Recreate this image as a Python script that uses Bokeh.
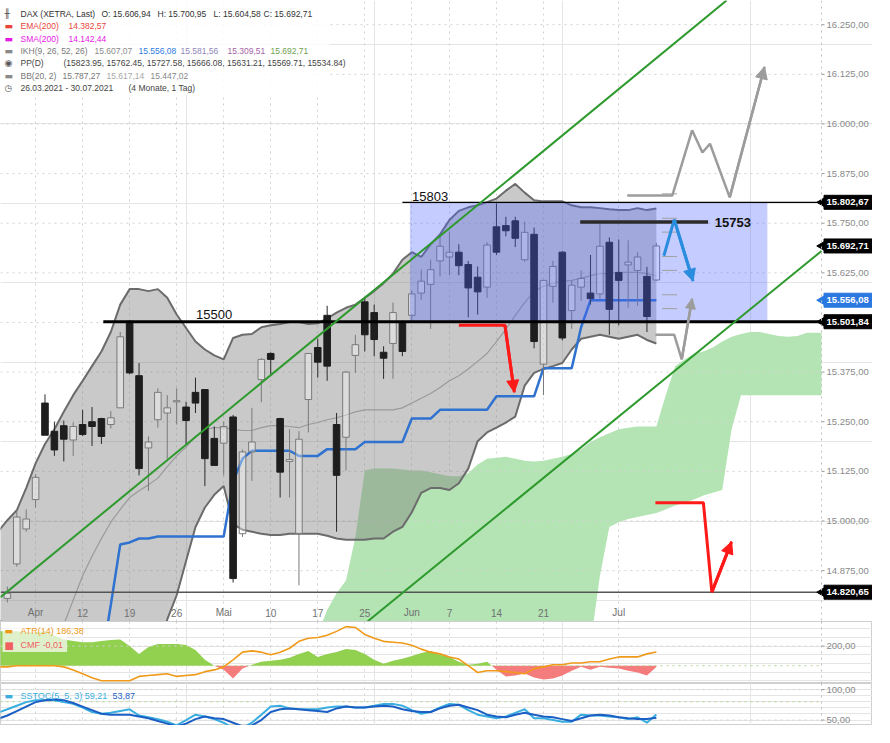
import math
import pandas as pd
from bokeh.plotting import figure
from bokeh.layouts import column
from bokeh.models import Range1d, FixedTicker, Grid, Label, Arrow, NormalHead, Span, BoxAnnotation
from bokeh.core.properties import value
from bokeh.embed import file_html
from bokeh.resources import INLINE

FONT = "Liberation Sans"

# ---------------- dates / categories ----------------
holidays = ["2021-04-02", "2021-04-05", "2021-05-24"]
trading_days = [d.strftime("%Y-%m-%d") for d in pd.bdate_range("2021-03-26", "2021-07-07")
                if d.strftime("%Y-%m-%d") not in holidays]
xs = list(range(len(trading_days)))
week_labels = ["Apr", "12", "19", "26", "Mai", "10", "17", "25", "Jun", "7", "14", "21", "Jul"]
week_dates = ["2021-04-01", "2021-04-12", "2021-04-19", "2021-04-26", "2021-05-03", "2021-05-10",
              "2021-05-17", "2021-05-25", "2021-06-01", "2021-06-07", "2021-06-14", "2021-06-21",
              "2021-07-01"]
week_x = [trading_days.index(d) for d in week_dates]

# ---------------- OHLC ----------------
open_ = [14700, 14805, 14892, 14980, 15054, 15297, 15226, 15240, 15204, 15243,
         15250, 15258, 15243, 15285, 15503, 15366, 15184, 15255, 15272, 15300,
         15287, 15324, 15331, 15208, 15196, 15262, 14968, 15174, 15356, 15422,
         15258, 15150, 14968, 15306, 15437, 15518, 15243, 15211, 15417, 15552,
         15525, 15425, 15447, 15500, 15518, 15574, 15596, 15655, 15665, 15677,
         15646, 15614, 15589, 15741, 15744, 15756, 15658, 15722, 15395, 15591,
         15677, 15530, 15589, 15574, 15572, 15702, 15626, 15645, 15631, 15616, 15606.94]
high = [14760, 14835, 15029, 15029, 15118, 15319, 15250, 15253, 15248, 15280,
        15287, 15260, 15277, 15476, 15505, 15398, 15213, 15334, 15317, 15334,
        15300, 15361, 15331, 15238, 15250, 15267, 15180, 15285, 15410, 15425,
        15260, 15231, 15226, 15422, 15459, 15542, 15272, 15378, 15469, 15560,
        15545, 15440, 15550, 15505, 15580, 15633, 15658, 15722, 15729, 15697,
        15655, 15641, 15702, 15800, 15766, 15766, 15754, 15739, 15606, 15655,
        15680, 15606, 15631, 15670, 15751, 15714, 15709, 15707, 15677, 15640, 15700.95]
low = [14690, 14795, 14885, 14973, 15034, 15216, 15164, 15150, 15164, 15214,
       15189, 15194, 15233, 15285, 15370, 15115, 15076, 15235, 15157, 15243,
       15194, 15272, 15088, 15140, 15115, 14845, 14960, 15101, 15299, 15366,
       15059, 15059, 14838, 15223, 15361, 15353, 14973, 15127, 15373, 15427,
       15415, 15358, 15358, 15415, 15505, 15557, 15484, 15616, 15619, 15619,
       15513, 15520, 15562, 15670, 15717, 15690, 15653, 15435, 15317, 15550,
       15455, 15484, 15555, 15545, 15560, 15469, 15493, 15537, 15542, 15476, 15604.58]
close = [14749, 14818, 15010, 15005, 15110, 15216, 15179, 15206, 15238, 15218,
         15238, 15213, 15260, 15464, 15373, 15132, 15199, 15324, 15285, 15303,
         15253, 15297, 15157, 15140, 15238, 14855, 15174, 15199, 15407, 15407,
         15123, 15155, 15206, 15422, 15400, 15390, 15115, 15375, 15444, 15469,
         15457, 15410, 15525, 15427, 15572, 15604, 15633, 15692, 15677, 15643,
         15587, 15577, 15695, 15677, 15731, 15712, 15727, 15452, 15606, 15641,
         15461, 15594, 15611, 15560, 15692, 15533, 15606, 15652, 15665, 15515, 15692.71]

# ---------------- Bollinger (20,2) ----------------
bb_upper = [14973, 15002, 15027, 15083, 15145, 15194, 15231, 15275, 15317, 15353,
            15390, 15427, 15476, 15545, 15584, 15584, 15579, 15584, 15562, 15520,
            15486, 15452, 15432, 15417, 15407, 15461, 15469, 15471, 15488, 15493,
            15496, 15501, 15501, 15496, 15498, 15510, 15525, 15537, 15545, 15562,
            15579, 15599, 15623, 15658, 15677, 15665, 15697, 15722, 15758, 15781,
            15790, 15795, 15803, 15812, 15832, 15849, 15827, 15808, 15805, 15805,
            15805, 15795, 15790, 15790, 15788, 15785, 15783, 15783, 15788, 15783, 15787.27]
bb_mid = [14298, 14347, 14396, 14445, 14494, 14592, 14666, 14739, 14801, 14862,
          14911, 14956, 14997, 15029, 15059, 15076, 15091, 15108, 15137, 15164,
          15186, 15213, 15231, 15235, 15235, 15231, 15228, 15228, 15235, 15240,
          15240, 15238, 15235, 15243, 15248, 15255, 15260, 15267, 15275, 15280,
          15280, 15280, 15280, 15285, 15297, 15309, 15321, 15336, 15353, 15366,
          15383, 15402, 15422, 15452, 15483, 15518, 15550, 15579, 15591, 15599,
          15604, 15606, 15611, 15618, 15623, 15623, 15626, 15626, 15626, 15623, 15617.14]
bb_lower = [13623, 13692, 13765, 13807, 13843, 13990, 14101, 14203, 14285, 14371,
            14432, 14485, 14518, 14513, 14534, 14568, 14603, 14632, 14752, 14813,
            14899, 14985, 15034, 15066, 15088, 14992, 14978, 14973, 14968, 14965,
            14965, 14968, 14968, 14968, 14968, 14963, 14956, 14953, 14953, 14953,
            14956, 14956, 14973, 14985, 15022, 15071, 15083, 15083, 15078, 15095,
            15132, 15201, 15223, 15235, 15248, 15263, 15341, 15373, 15383, 15390,
            15398, 15432, 15459, 15464, 15469, 15464, 15459, 15464, 15469, 15456, 15447.02]

# ---------------- Ichimoku ----------------
kijun = [14600, 14600, 14600, 14600, 14600, 14600, 14600, 14600, 14600, 14600,
         14600, 14641, 14789, 14941, 14946, 14956, 14956, 14961, 14961, 14961,
         14961, 14961, 14961, 14961, 14961, 15100, 15157, 15177, 15177, 15177,
         15177, 15177, 15164, 15164, 15164, 15181, 15181, 15181, 15181, 15199,
         15199, 15199, 15199, 15199, 15258, 15258, 15258, 15280, 15280, 15280,
         15280, 15280, 15280, 15314, 15314, 15314, 15314, 15314, 15385, 15385,
         15385, 15385, 15488, 15556.08, 15556.08, 15556.08, 15556.08, 15556.08,
         15556.08, 15556.08, 15556.08]
cloud_x = [0, 1, 2, 3, 4, 5, 6, 7, 8, 9, 10, 11, 12, 13, 14, 15, 16, 17, 18, 19,
           20, 21, 22, 23, 24, 25, 26, 27, 28, 29, 30, 31, 32, 33, 34, 35, 36, 37, 38, 39,
           40, 41, 42, 43, 44, 45, 46, 47, 48, 49, 50, 51, 52, 53, 54, 55, 56, 57, 58, 59,
           60, 61, 62, 63, 64, 65, 66, 67, 68, 69, 70, 71, 72, 73, 74, 75, 76, 77, 78, 79,
           80, 81, 82, 83, 84, 85, 86, 87, 87.56]
cloud_top = [14650, 14650, 14650, 14650, 14650, 14650, 14650, 14650, 14650, 14650,
             14650, 14650, 14650, 14650, 14650, 14650, 14650, 14650, 14650, 14650,
             14650, 14650, 14650, 14650, 14650, 14650, 14650, 14650, 14650, 14650,
             14650, 14650, 14660, 14680, 14715, 14776, 14818, 14850, 14960, 15127,
             15132, 15132, 15132, 15130, 15127, 15127, 15123, 15118, 15113, 15113,
             15120, 15142, 15157, 15159, 15162, 15157, 15152, 15150, 15152, 15157,
             15162, 15169, 15181, 15199, 15211, 15221, 15231, 15235, 15238, 15238,
             15238, 15317, 15390, 15407, 15422, 15427, 15437, 15452, 15464, 15471,
             15476, 15476, 15471, 15466, 15464, 15466, 15474, 15474, 15474]
cloud_bottom = [14500, 14500, 14500, 14500, 14500, 14500, 14500, 14500, 14500, 14500,
                14500, 14500, 14500, 14500, 14500, 14500, 14500, 14500, 14500, 14500,
                14500, 14500, 14500, 14500, 14500, 14500, 14500, 14500, 14500, 14500,
                14500, 14500, 14500, 14500, 14500, 14500, 14500, 14500, 14500, 14500,
                14500, 14500, 14500, 14500, 14500, 14500, 14500, 14500, 14500, 14500,
                14500, 14500, 14500, 14500, 14500, 14500, 14500, 14500, 14500, 14500,
                14500, 14500, 14500, 14690, 14862, 14985, 14997, 15005, 15010, 15015,
                15020, 15029, 15039, 15046, 15054, 15064, 15071, 15078, 15231, 15317,
                15317, 15317, 15317, 15317, 15317, 15317, 15317, 15317, 15317]

# ---------------- lower panels ----------------
atr = [152, 152, 154.5, 154.5, 154.5, 154.5, 154.5, 152, 145, 136,
       127, 120, 120, 120, 120, 130, 132, 134, 136, 130,
       132, 134, 141, 145, 152, 168, 186, 189, 186, 180,
       186, 195, 211, 218, 220, 225, 234, 245, 243, 227,
       218, 211, 209, 207, 202, 193, 186, 182, 175, 170,
       155, 139, 143, 143, 141, 139, 136, 148, 152, 157,
       157, 161, 161, 164, 164, 170, 175, 175, 175, 182, 186.38]
cmf = [0.25, 0.25, 0.25, 0.243, 0.243, 0.25, 0.22, 0.19, 0.18, 0.17,
       0.17, 0.18, 0.186, 0.19, 0.143, 0.086, 0.136, 0.157, 0.157, 0.157,
       0.15, 0.114, 0.043, 0.0, -0.03, -0.093, -0.02, 0.007, 0.029, 0.036,
       0.043, 0.057, 0.086, 0.107, 0.064, 0.086, 0.1, 0.121, 0.114, 0.086,
       0.043, 0.014, 0.036, 0.05, 0.071, 0.093, 0.107, 0.079, 0.064, 0.029,
       0.007, 0.014, 0.029, -0.029, -0.079, -0.071, -0.057, -0.086, -0.1, -0.093,
       -0.071, -0.036, -0.007, -0.029, -0.007, -0.014, -0.021, -0.036, -0.05, -0.071, -0.01]
stoch_k = [62, 67.6, 73.5, 79.4, 82.4, 82.4, 82.4, 79.4, 76.5, 70.6,
           63.2, 60.3, 61.8, 64.7, 67.6, 57.4, 54.4, 51.5, 47.1, 41.2,
           50, 58.8, 55.9, 51.5, 45.6, 36.8, 36.8, 45.6, 58.8, 72.1,
           73.5, 69.1, 67.6, 67.6, 67.6, 70.6, 72.1, 72.1, 70.6, 70.6,
           73.5, 76.5, 76.5, 73.5, 66.2, 60.3, 63.2, 70.6, 76.5, 75,
           66.2, 58.8, 55.9, 52.9, 55.9, 61.8, 67.6, 52.9, 52.9, 50,
           47.1, 47.1, 58.8, 57.4, 57.4, 55.9, 54.4, 51.5, 54.4, 45.6, 59.21]
stoch_d = [52, 57.4, 64.7, 72.1, 79.4, 82.4, 83.8, 82.4, 77.9, 72.1,
           66.2, 60.3, 58.8, 58.8, 58.8, 55.9, 52.9, 48.5, 44.1, 39.7,
           44.1, 51.5, 55.9, 52.9, 51.5, 45.6, 39.7, 41.2, 50, 63.2,
           67.6, 69.1, 67.6, 66.2, 64.7, 63.2, 69.1, 72.1, 70.6, 70.6,
           72.1, 73.5, 72.1, 67.6, 64.7, 63.2, 63.2, 69.1, 73.5, 75,
           70.6, 66.2, 58.8, 55.9, 54.4, 58.8, 61.8, 58.8, 55.9, 54.4,
           51.5, 48.5, 52.9, 57.4, 58.8, 57.4, 54.4, 52.9, 51.5, 51.5, 53.87]

# ---------------- drawn annotations (date index, price) ----------------
chan_up_x, chan_up_y = [0.27, 77.46], [14808, 16311]
chan_lo_x, chan_lo_y = [35.0, 87.56], [14664, 15680]
level_15500, level_15500_from = 15501.84, 11.2
level_15803, level_15803_from = 15802.67, 43.0
level_15753, level_15753_span = 15753, (61.9, 75.5)
level_14820 = 14820.65
box_x, box_y = (43.8, 81.8), (15501.84, 15802.67)
grey_up_x = [66.9, 71.7, 73.8, 74.9, 75.7, 77.8, 81.5]
grey_up_y = [15820, 15820, 15984, 15928, 15950, 15815, 16144]
blue_x, blue_y = [70.8, 71.9, 73.9], [15668, 15759, 15604]
grey_lo_x, grey_lo_y = [69.9, 71.9, 72.7, 73.8], [15469, 15469, 15407, 15560]
red_up_x, red_up_y = [49.0, 53.9, 54.9], [15493, 15493, 15324]
red_lo_x, red_lo_y = [69.9, 75.0, 75.9, 78.0], [15046, 15046, 14821, 14948]
pp_levels = [15823.95, 15762.45, 15727.58, 15666.08, 15631.21, 15569.71, 15534.84]
tag_values = [15802.67, 15692.71, 15556.08, 15501.84, 14820.65]
tag_texts = ["15.802,67", "15.692,71", "15.556,08", "15.501,84", "14.820,65"]
tag_colors = ["#000000", "#000000", "#2a78e0", "#000000", "#000000"]
y_ticks = [14875, 15000, 15125, 15250, 15375, 15500, 15625, 15750, 15875, 16000, 16125, 16250]
y_tick_labels = ["14.875,00", "15.000,00", "15.125,00", "15.250,00", "15.375,00", "15.500,00",
                 "15.625,00", "15.750,00", "15.875,00", "16.000,00", "16.125,00", "16.250,00"]

# ---------------- layout helpers (reference pixel -> data) ----------------
X_LEFT, X_FULL = 0.27, 92.98       # whole canvas width (plot + price scale)
X_AXIS = 87.56                     # position of the price scale line
Y_BOTTOM, Y_TOP = 14746.9, 16310.9
FW = 872


def kx(px):
    return X_LEFT + (X_FULL - X_LEFT) * px / 890.0


def vy(py):
    return Y_TOP - (Y_TOP - Y_BOTTOM) * py / 637.0


def base_fig(h, y_range, x_range=None):
    f = figure(frame_width=FW, frame_height=h,
               x_range=x_range if x_range is not None else Range1d(X_LEFT, X_FULL),
               y_range=y_range, x_axis_location=None, y_axis_location=None,
               toolbar_location=None, output_backend="svg", min_border=0,
               background_fill_color="white", border_fill_color="white")
    f.add_layout(Grid(dimension=0, ticker=FixedTicker(ticks=week_x), grid_line_color="#d2d2d2",
                      grid_line_dash="dotted"))
    return f


def price_scale(f, ticks, labels, with_grid=True):
    n = len(ticks)
    if with_grid:
        f.segment(x0=[X_LEFT] * n, y0=ticks, x1=[X_AXIS] * n, y1=ticks, line_color="#d2d2d2",
                  line_dash="dotted", line_width=1)
    f.add_layout(Span(location=X_AXIS, dimension="height", line_color="#bdbdbd", line_dash="dotted"))
    f.segment(x0=[X_AXIS] * n, y0=ticks, x1=[kx(841)] * n, y1=ticks, line_color="#9a9a9a", line_width=1)
    f.text(x=[kx(843)] * n, y=ticks, text=labels, text_font=value(FONT), text_font_size="9.5px",
           text_color="#8a8a8a", text_align="left", text_baseline="middle")


# ================= main panel =================
p = base_fig(621, Range1d(Y_BOTTOM, Y_TOP))
p.outline_line_color = None

# Ichimoku cloud
p.varea(x=cloud_x, y1=cloud_bottom, y2=cloud_top, fill_color="#b4e4b4")
price_scale(p, y_ticks, y_tick_labels)
# Bollinger fill and lines
p.varea(x=xs, y1=bb_lower, y2=bb_upper, fill_color="#787878", fill_alpha=0.4)
p.line(xs, bb_mid, line_color="#9a9a9a", line_width=1.2)
p.line(xs, bb_upper, line_color="#6b6b6b", line_width=2)
p.line(xs, bb_lower, line_color="#6b6b6b", line_width=2)
# Kijun
p.line(xs, kijun, line_color="#2f72d0", line_width=2.5)
# support line
p.segment(x0=[X_LEFT], y0=[level_14820], x1=[X_AXIS], y1=[level_14820], line_color="#555555", line_width=1.5)

# candles
up_x, up_top, up_bot, dn_x, dn_top, dn_bot = [], [], [], [], [], []
wk_x0, wk_y0, wk_y1, wk_col = [], [], [], []
for i, (o, h, l, c) in enumerate(zip(open_, high, low, close)):
    top, bot = max(o, c), min(o, c)
    col = "#7a7a7a" if c >= o else "#2a2a2a"
    for a, b in ((top, h), (l, bot)):
        wk_x0.append(i); wk_y0.append(a); wk_y1.append(b); wk_col.append(col)
    if c >= o:
        up_x.append(i); up_top.append(top); up_bot.append(bot)
    else:
        dn_x.append(i); dn_top.append(top); dn_bot.append(bot)
p.segment(x0=wk_x0, y0=wk_y0, x1=wk_x0, y1=wk_y1, line_color=wk_col, line_width=1)
p.vbar(x=up_x, width=0.7, top=up_top, bottom=up_bot, fill_color="white", fill_alpha=0.35,
       line_color="#7a7a7a", line_width=1)
p.vbar(x=dn_x, width=0.7, top=dn_top, bottom=dn_bot, fill_color="#1e1e1e", line_color="#1e1e1e")

# blue range box
p.quad(left=[box_x[0]], right=[box_x[1]], bottom=[box_y[0]], top=[box_y[1]],
       fill_color="#5064ff", fill_alpha=0.33, line_color=None)
# horizontal levels
p.segment(x0=[level_15500_from], y0=[level_15500], x1=[X_AXIS], y1=[level_15500], line_color="black", line_width=3)
p.segment(x0=[level_15803_from], y0=[level_15803], x1=[X_AXIS], y1=[level_15803], line_color="black", line_width=1.2)
p.segment(x0=[level_15753_span[0]], y0=[level_15753], x1=[level_15753_span[1]], y1=[level_15753],
          line_color="#2b2b2b", line_width=3.5)
# pivot dashes
p.segment(x0=[70.6] * len(pp_levels), y0=pp_levels, x1=[72.2] * len(pp_levels), y1=pp_levels,
          line_color="#a0a0a0", line_width=1)
# trend channel
p.line(chan_up_x, chan_up_y, line_color="#2e9a2e", line_width=2)
p.line(chan_lo_x, chan_lo_y, line_color="#2e9a2e", line_width=2)


def arrow_path(fig, xs_, ys_, color, width, head):
    fig.line(xs_, ys_, line_color=color, line_width=width)
    fig.add_layout(Arrow(end=NormalHead(size=head, fill_color=color, line_color=color),
                         x_start=xs_[-2], y_start=ys_[-2], x_end=xs_[-1], y_end=ys_[-1],
                         line_color=color, line_width=width))


arrow_path(p, grey_up_x, grey_up_y, "#9c9c9c", 2.5, 12)
arrow_path(p, grey_lo_x, grey_lo_y, "#9c9c9c", 2.5, 10)
arrow_path(p, blue_x, blue_y, "#2b8de0", 3, 12)
arrow_path(p, red_up_x, red_up_y, "#ff1a1a", 3, 12)
arrow_path(p, red_lo_x, red_lo_y, "#ff1a1a", 3, 12)

# level texts
p.add_layout(Label(x=kx(218), y=level_15500, y_offset=3, text="15500", text_font=FONT, text_font_size="13px",
                   text_color="#111111", text_align="center", text_baseline="bottom"))
p.add_layout(Label(x=kx(420), y=level_15803, y_offset=1, text="15803", text_font=FONT, text_font_size="13px",
                   text_color="#111111", text_align="left", text_baseline="bottom"))
p.add_layout(Label(x=kx(729), y=level_15753, text="15753", text_font=FONT, text_font_size="13px",
                   text_font_style="bold", text_color="#111111", text_align="left", text_baseline="middle"))

# date labels
p.text(x=week_x, y=[vy(628)] * len(week_x), text=week_labels, text_font=value(FONT), text_font_size="10px",
       text_color="#707070", text_align="center", text_baseline="middle")

# price tags on the scale
nt = len(tag_values)
p.scatter(x=[kx(839)] * nt, y=tag_values, marker="triangle", angle=math.pi / 2, size=10,
          fill_color=tag_colors, line_color=tag_colors)
p.rect(x=[kx(865)] * nt, y=tag_values, width=48, height=14, width_units="screen", height_units="screen",
       fill_color=tag_colors, line_color=tag_colors)
p.text(x=[kx(843)] * nt, y=tag_values, text=tag_texts, text_font=value(FONT), text_font_size="9.5px",
       text_font_style="bold", text_color="white", text_align="left", text_baseline="middle")

# legend box
p.add_layout(BoxAnnotation(left=kx(0), right=kx(336), top=vy(0), bottom=vy(97), fill_color="white",
                           fill_alpha=0.85, line_color=None))
legend_rows = [
    (14, [("DAX (XETRA, Last)", 20, "#333333"), ("O: 15.606,94", 101, "#333333"), ("H: 15.700,95", 157, "#333333"),
          ("L: 15.604,58", 213, "#333333"), ("C: 15.692,71", 263, "#333333")], ("\u256B", "#555555")),
    (26, [("EMA(200)", 20, "#e8463a"), ("14.382,57", 68, "#e8463a")], ("\u25AC", "#e8463a")),
    (39, [("SMA(200)", 20, "#e619e6"), ("14.142,44", 68, "#e619e6")], ("\u25AC", "#e619e6")),
    (52, [("IKH(9, 26, 52, 26)", 20, "#7a7a7a"), ("15.607,07", 94, "#8a8a8a"), ("15.556,08", 138, "#2d7be0"),
          ("15.581,56", 180, "#8e86b8"), ("15.309,51", 227, "#a563a5"), ("15.692,71", 270, "#6fa050")],
     ("\u25AC", "#8a8a8a")),
    (64, [("PP(D)", 20, "#444444"),
          ("(15823.95, 15762.45, 15727.58, 15666.08, 15631.21, 15569.71, 15534.84)", 63, "#444444")],
     ("\u25C9", "#555555")),
    (77, [("BB(20, 2)", 20, "#777777"), ("15.787,27", 62, "#777777"), ("15.617,14", 106, "#a8a8a8"),
          ("15.447,02", 150, "#888888")], ("\u25AC", "#8a8a8a")),
    (90, [("26.03.2021 - 30.07.2021", 20, "#444444"), ("(4 Monate, 1 Tag)", 128, "#444444")], ("\u25F7", "#555555")),
]
for ry, parts, (icon, icol) in legend_rows:
    p.add_layout(Label(x=X_LEFT, x_offset=4, y=vy(ry), text=icon, text_font="DejaVu Sans", text_font_size="9px",
                       text_color=icol, text_baseline="middle"))
    for txt, rx, col in parts:
        p.add_layout(Label(x=X_LEFT, x_offset=rx, y=vy(ry), text=txt, text_font=FONT, text_font_size="8.5px",
                           text_color=col, text_baseline="middle"))

# ================= ATR / CMF panel =================
ATR_LO, ATR_HI = 113.6, 256.8


def atr_v(py):
    return ATR_HI - (ATR_HI - ATR_LO) * (py - 637) / 63.0


pa = base_fig(62, Range1d(ATR_LO, ATR_HI), p.x_range)
pa.outline_line_color = "#cfcfcf"
pa.extra_y_ranges = {"cmf": Range1d(-0.129, 0.321)}

cx, cy = [], []
for i, v in enumerate(cmf):
    if i > 0 and cmf[i - 1] * v < 0:
        t = cmf[i - 1] / (cmf[i - 1] - v)
        cx.append(i - 1 + t); cy.append(0.0)
    cx.append(i); cy.append(v)
pa.varea(x=cx, y1=[0] * len(cx), y2=[max(v, 0) for v in cy], fill_color="#92d050", y_range_name="cmf")
pa.varea(x=cx, y1=[0] * len(cx), y2=[min(v, 0) for v in cy], fill_color="#f47c7c", y_range_name="cmf")
pa.segment(x0=[X_LEFT], y0=[0], x1=[X_AXIS], y1=[0], line_color="#b0d48c", line_dash="dotted",
           y_range_name="cmf")
price_scale(pa, [200], ["200,00"])
pa.line(xs, atr, line_color="#f09a1a", line_width=1.6)
pa.add_layout(BoxAnnotation(left=kx(2), right=kx(68), top=atr_v(641), bottom=atr_v(668), fill_color="white",
                            fill_alpha=0.7, line_color=None))
pa.add_layout(Label(x=X_LEFT, x_offset=4, y=atr_v(647), text="\u25AC", text_font="DejaVu Sans",
                    text_font_size="9px", text_color="#f09a1a", text_baseline="middle"))
pa.add_layout(Label(x=X_LEFT, x_offset=20, y=atr_v(647), text="ATR(14)  186,38", text_font=FONT,
                    text_font_size="9px", text_color="#f09a1a", text_baseline="middle"))
pa.add_layout(Label(x=X_LEFT, x_offset=4, y=atr_v(661), text="\u25A0", text_font="DejaVu Sans",
                    text_font_size="10px", text_color="#f06060", text_baseline="middle"))
pa.add_layout(Label(x=X_LEFT, x_offset=20, y=atr_v(661), text="CMF  -0,01", text_font=FONT,
                    text_font_size="9px", text_color="#f06060", text_baseline="middle"))

# ================= SSTOC panel =================
ST_LO, ST_HI = 41.0, 110.0


def st_v(py):
    return ST_HI - (ST_HI - ST_LO) * (py - 700) / 42.0


ps = base_fig(42, Range1d(ST_LO, ST_HI), p.x_range)
ps.outline_line_color = "#cfcfcf"
ps.segment(x0=[X_LEFT], y0=[80], x1=[X_AXIS], y1=[80], line_color="#b0d48c", line_dash="dotted")
price_scale(ps, [50, 100], ["50,00", "100,00"])
ps.line(xs, stoch_k, line_color="#3aaee0", line_width=2)
ps.line(xs, stoch_d, line_color="#1c5fc4", line_width=2)
ps.add_layout(Label(x=X_LEFT, x_offset=4, y=st_v(712), text="\u25AC", text_font="DejaVu Sans",
                    text_font_size="9px", text_color="#3aaee0", text_baseline="middle"))
ps.add_layout(Label(x=X_LEFT, x_offset=20, y=st_v(712), text="SSTOC(5, 5, 3)  59,21", text_font=FONT,
                    text_font_size="9px", text_color="#3aaee0", text_baseline="middle"))
ps.add_layout(Label(x=X_LEFT, x_offset=112, y=st_v(712), text="53,87", text_font=FONT,
                    text_font_size="9px", text_color="#1c5fc4", text_baseline="middle"))

layout = column(p, pa, ps, spacing=0)
open("out.html", "w").write(file_html(layout, INLINE))
